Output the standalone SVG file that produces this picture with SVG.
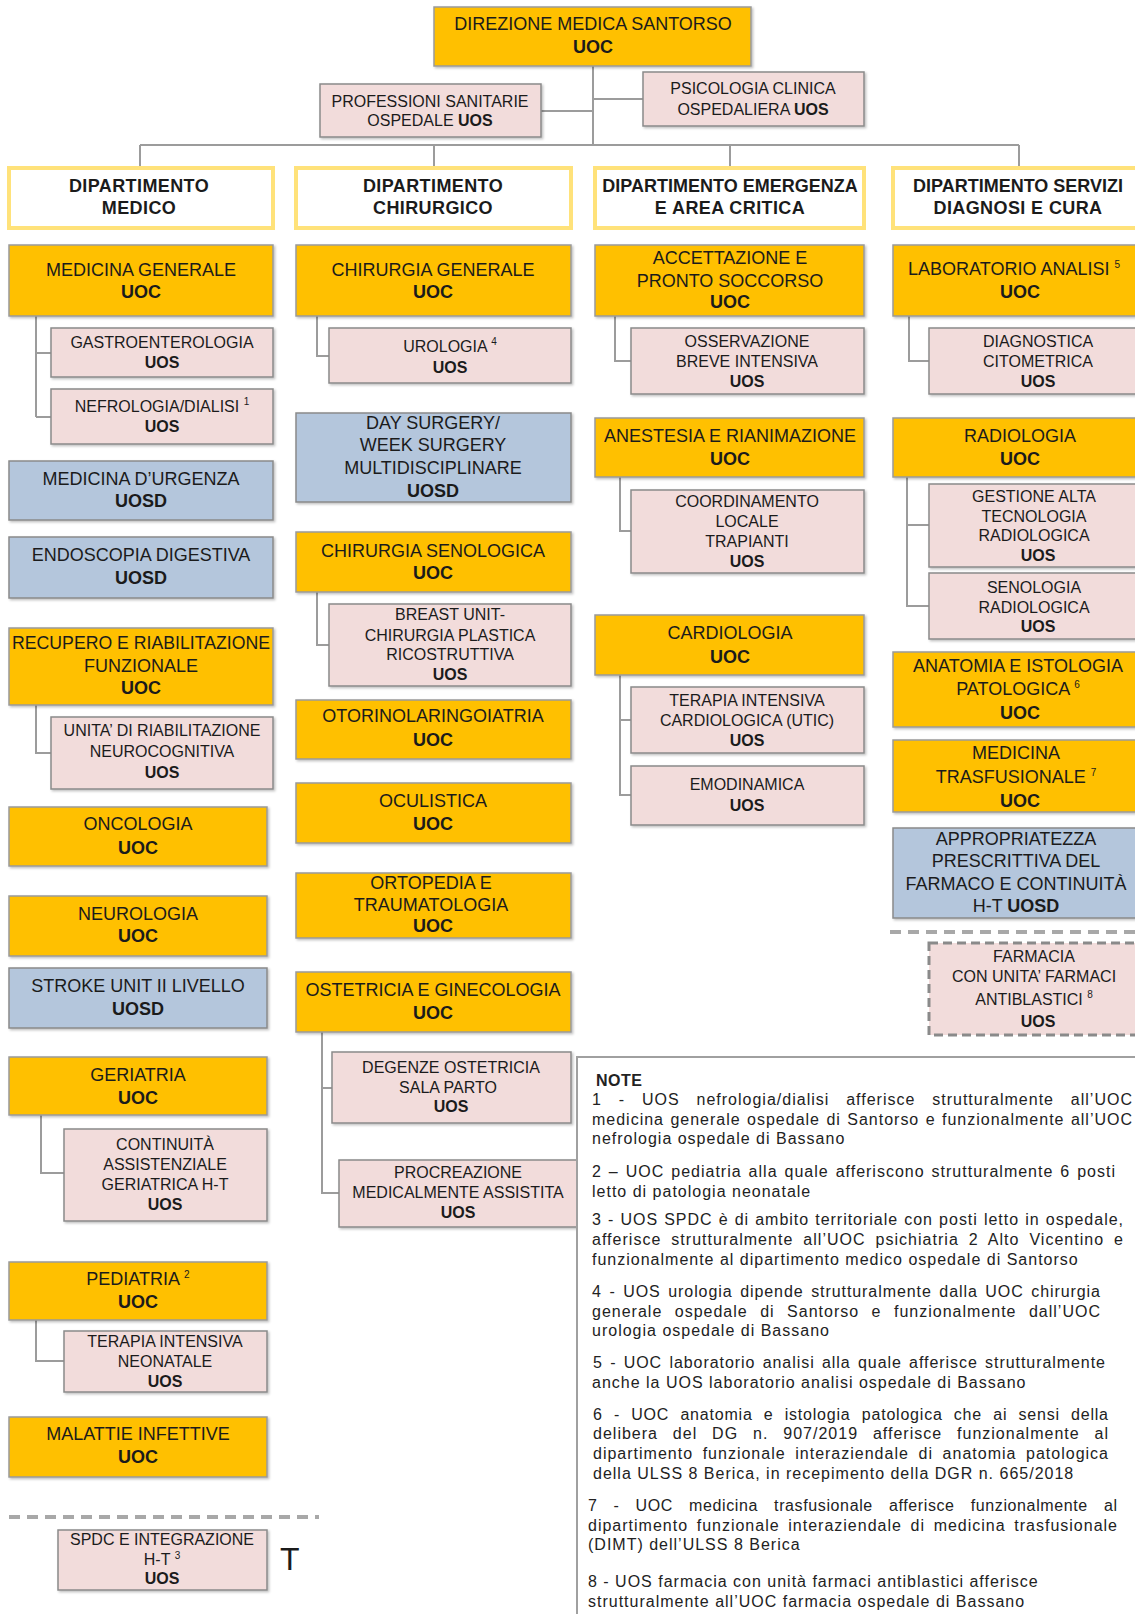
<svg xmlns="http://www.w3.org/2000/svg" width="1135" height="1614" viewBox="0 0 1135 1614">
<defs>
<filter id="sh" x="-5%" y="-5%" width="110%" height="115%">
<feDropShadow dx="1.5" dy="1.5" stdDeviation="0.8" flood-color="#000" flood-opacity="0.25"/>
</filter>
</defs>
<style>
text{font-family:"Liberation Sans",Arial,sans-serif;fill:#1b1b1b}
.n text{text-anchor:middle}
.uoc{fill:#FFC000;stroke:#9a9a9a;stroke-width:1.5;filter:url(#sh)}
.uos{fill:#F2DCDB;stroke:#8a8a8a;stroke-width:1.5;filter:url(#sh)}
.uosd{fill:#B4C6DC;stroke:#8a8a8a;stroke-width:1.5;filter:url(#sh)}
.dept{fill:#fff;stroke:#FFE27A;stroke-width:4}
.dept-t{letter-spacing:0.4px}
.dashbox{fill:#F2DCDB;stroke:#8a8a8a;stroke-width:3;stroke-dasharray:9 5}
.t18{font-size:18px}
.t16{font-size:16px}
.b{font-weight:bold}
.sup{font-size:10px}
.conn path{fill:none;stroke:#9c9c9c;stroke-width:2}
.sep{fill:none;stroke:#a8a8a8;stroke-width:4;stroke-dasharray:11 7}
.notes text{font-size:16px;letter-spacing:1px;fill:#222}
</style>
<rect width="1135" height="1614" fill="#fff"/>

<!-- connectors -->
<g id="connectors" class="conn">
<path d="M593 66V146M593 111H541M593 99H643"/>
<path d="M140 145H1019M140 145V167M434 145V167M730 145V167M1019 145V167"/>
<path d="M36 316V417M36 353H51M36 417H51"/>
<path d="M36 705V753H51"/>
<path d="M41 1115V1173H64"/>
<path d="M36 1320V1361H64"/>
<path d="M317 316V356H329"/>
<path d="M317 592V645H329"/>
<path d="M322 1032V1193H339M322 1088H332"/>
<path d="M615 316V361H631"/>
<path d="M620 477V531H631"/>
<path d="M620 675V795H631M620 720H631"/>
<path d="M909 316V361H929"/>
<path d="M907 477V606H929M907 525H929"/>
</g>

<!-- top level -->
<g id="direzione" class="n"><rect class="uoc" x="434" y="7" width="317" height="59"/>
<text class="t18" x="593" y="30">DIREZIONE MEDICA SANTORSO</text><text class="t18 b" x="593" y="53">UOC</text></g>
<g id="professioni" class="n"><rect class="uos" x="320" y="84" width="221" height="53"/>
<text class="t16" x="430" y="107">PROFESSIONI SANITARIE</text><text class="t16" x="430" y="126">OSPEDALE  <tspan class="b">UOS</tspan></text></g>
<g id="psicologia" class="n"><rect class="uos" x="643" y="72" width="221" height="54"/>
<text class="t16" x="753" y="94">PSICOLOGIA CLINICA</text><text class="t16" x="753" y="115">OSPEDALIERA <tspan class="b">UOS</tspan></text></g>

<!-- departments -->
<g id="dip-medico" class="n"><rect class="dept" x="9" y="168" width="264" height="60"/>
<text class="t18 b dept-t" x="139" y="192">DIPARTIMENTO</text><text class="t18 b dept-t" x="139" y="214">MEDICO</text></g>
<g id="dip-chirurgico" class="n"><rect class="dept" x="296" y="168" width="275" height="60"/>
<text class="t18 b dept-t" x="433" y="192">DIPARTIMENTO</text><text class="t18 b dept-t" x="433" y="214">CHIRURGICO</text></g>
<g id="dip-emergenza" class="n"><rect class="dept" x="595" y="168" width="269" height="60"/>
<text class="t18 b" x="730" y="192">DIPARTIMENTO EMERGENZA</text><text class="t18 b dept-t" x="730" y="214">E AREA CRITICA</text></g>
<g id="dip-servizi" class="n"><rect class="dept" x="893" y="168" width="254" height="60"/>
<text class="t18 b" x="1018" y="192">DIPARTIMENTO SERVIZI</text><text class="t18 b dept-t" x="1018" y="214">DIAGNOSI E CURA</text></g>

<!-- column 1 -->
<g id="medicina-generale" class="n"><rect class="uoc" x="9" y="245" width="264" height="71"/>
<text class="t18" x="141" y="276">MEDICINA GENERALE</text><text class="t18 b" x="141" y="298">UOC</text></g>
<g id="gastroenterologia" class="n"><rect class="uos" x="51" y="328" width="222" height="49"/>
<text class="t16" x="162" y="348">GASTROENTEROLOGIA</text><text class="t16 b" x="162" y="368">UOS</text></g>
<g id="nefrologia" class="n"><rect class="uos" x="51" y="389" width="222" height="55"/>
<text class="t16" x="162" y="412">NEFROLOGIA/DIALISI   <tspan class="sup" dy="-7">1</tspan></text><text class="t16 b" x="162" y="432">UOS</text></g>
<g id="medicina-urgenza" class="n"><rect class="uosd" x="9" y="461" width="264" height="59"/>
<text class="t18" x="141" y="485">MEDICINA D’URGENZA</text><text class="t18 b" x="141" y="507">UOSD</text></g>
<g id="endoscopia" class="n"><rect class="uosd" x="9" y="537" width="264" height="61"/>
<text class="t18" x="141" y="561">ENDOSCOPIA DIGESTIVA</text><text class="t18 b" x="141" y="584">UOSD</text></g>
<g id="recupero" class="n"><rect class="uoc" x="9" y="628" width="264" height="77"/>
<text class="t18" x="141" y="649" textLength="258" lengthAdjust="spacingAndGlyphs">RECUPERO E RIABILITAZIONE</text><text class="t18" x="141" y="672">FUNZIONALE</text><text class="t18 b" x="141" y="694">UOC</text></g>
<g id="neurocognitiva" class="n"><rect class="uos" x="51" y="717" width="222" height="72"/>
<text class="t16" x="162" y="736">UNITA’ DI RIABILITAZIONE</text><text class="t16" x="162" y="757">NEUROCOGNITIVA</text><text class="t16 b" x="162" y="778">UOS</text></g>
<g id="oncologia" class="n"><rect class="uoc" x="9" y="807" width="258" height="59"/>
<text class="t18" x="138" y="830">ONCOLOGIA</text><text class="t18 b" x="138" y="854">UOC</text></g>
<g id="neurologia" class="n"><rect class="uoc" x="9" y="896" width="258" height="60"/>
<text class="t18" x="138" y="920">NEUROLOGIA</text><text class="t18 b" x="138" y="942">UOC</text></g>
<g id="stroke-unit" class="n"><rect class="uosd" x="9" y="968" width="258" height="60"/>
<text class="t18" x="138" y="992">STROKE UNIT II LIVELLO</text><text class="t18 b" x="138" y="1015">UOSD</text></g>
<g id="geriatria" class="n"><rect class="uoc" x="9" y="1057" width="258" height="58"/>
<text class="t18" x="138" y="1081">GERIATRIA</text><text class="t18 b" x="138" y="1104">UOC</text></g>
<g id="continuita" class="n"><rect class="uos" x="64" y="1129" width="203" height="92"/>
<text class="t16" x="165" y="1150">CONTINUITÀ</text><text class="t16" x="165" y="1170">ASSISTENZIALE</text><text class="t16" x="165" y="1190">GERIATRICA H-T</text><text class="t16 b" x="165" y="1210">UOS</text></g>
<g id="pediatria" class="n"><rect class="uoc" x="9" y="1262" width="258" height="58"/>
<text class="t18" x="138" y="1285">PEDIATRIA <tspan class="sup" dy="-7">2</tspan></text><text class="t18 b" x="138" y="1308">UOC</text></g>
<g id="tin" class="n"><rect class="uos" x="64" y="1331" width="203" height="61"/>
<text class="t16" x="165" y="1347">TERAPIA INTENSIVA</text><text class="t16" x="165" y="1367">NEONATALE</text><text class="t16 b" x="165" y="1387">UOS</text></g>
<g id="malattie-infettive" class="n"><rect class="uoc" x="9" y="1417" width="258" height="60"/>
<text class="t18" x="138" y="1440">MALATTIE INFETTIVE</text><text class="t18 b" x="138" y="1463">UOC</text></g>
<path class="sep" d="M9 1517H319"/>
<g id="spdc" class="n"><rect class="uos" x="58" y="1530" width="209" height="60"/>
<text class="t16" x="162" y="1545">SPDC E INTEGRAZIONE</text><text class="t16" x="162" y="1565">H-T <tspan class="sup" dy="-6">3</tspan></text><text class="t16 b" x="162" y="1584">UOS</text></g>
<text x="280" y="1570" font-size="32">T</text>

<!-- column 2 -->
<g id="chirurgia-generale" class="n"><rect class="uoc" x="296" y="245" width="275" height="71"/>
<text class="t18" x="433" y="276">CHIRURGIA GENERALE</text><text class="t18 b" x="433" y="298">UOC</text></g>
<g id="urologia" class="n"><rect class="uos" x="329" y="328" width="242" height="55"/>
<text class="t16" x="450" y="352">UROLOGIA <tspan class="sup" dy="-7">4</tspan></text><text class="t16 b" x="450" y="373">UOS</text></g>
<g id="day-surgery" class="n"><rect class="uosd" x="296" y="413" width="275" height="89"/>
<text class="t18" x="433" y="429">DAY SURGERY/</text><text class="t18" x="433" y="451">WEEK SURGERY</text><text class="t18" x="433" y="474">MULTIDISCIPLINARE</text><text class="t18 b" x="433" y="497">UOSD</text></g>
<g id="chirurgia-senologica" class="n"><rect class="uoc" x="296" y="532" width="275" height="60"/>
<text class="t18" x="433" y="557">CHIRURGIA SENOLOGICA</text><text class="t18 b" x="433" y="579">UOC</text></g>
<g id="breast-unit" class="n"><rect class="uos" x="329" y="604" width="242" height="82"/>
<text class="t16" x="450" y="620">BREAST UNIT-</text><text class="t16" x="450" y="641">CHIRURGIA PLASTICA</text><text class="t16" x="450" y="660">RICOSTRUTTIVA</text><text class="t16 b" x="450" y="680">UOS</text></g>
<g id="otorino" class="n"><rect class="uoc" x="296" y="700" width="275" height="59"/>
<text class="t18" x="433" y="722">OTORINOLARINGOIATRIA</text><text class="t18 b" x="433" y="746">UOC</text></g>
<g id="oculistica" class="n"><rect class="uoc" x="296" y="783" width="275" height="60"/>
<text class="t18" x="433" y="807">OCULISTICA</text><text class="t18 b" x="433" y="830">UOC</text></g>
<g id="ortopedia" class="n"><rect class="uoc" x="296" y="873" width="275" height="65"/>
<text class="t18" x="431" y="889">ORTOPEDIA E</text><text class="t18" x="431" y="911">TRAUMATOLOGIA</text><text class="t18 b" x="433" y="932">UOC</text></g>
<g id="ostetricia" class="n"><rect class="uoc" x="296" y="972" width="275" height="60"/>
<text class="t18" x="433" y="996">OSTETRICIA E GINECOLOGIA</text><text class="t18 b" x="433" y="1019">UOC</text></g>
<g id="degenze" class="n"><rect class="uos" x="332" y="1052" width="239" height="71"/>
<text class="t16" x="451" y="1073">DEGENZE OSTETRICIA</text><text class="t16" x="448" y="1093">SALA PARTO</text><text class="t16 b" x="451" y="1112">UOS</text></g>
<g id="procreazione" class="n"><rect class="uos" x="339" y="1160" width="238" height="67"/>
<text class="t16" x="458" y="1178">PROCREAZIONE</text><text class="t16" x="458" y="1198">MEDICALMENTE ASSISTITA</text><text class="t16 b" x="458" y="1218">UOS</text></g>

<!-- column 3 -->
<g id="pronto-soccorso" class="n"><rect class="uoc" x="595" y="245" width="269" height="71"/>
<text class="t18" x="730" y="264">ACCETTAZIONE E</text><text class="t18" x="730" y="287">PRONTO SOCCORSO</text><text class="t18 b" x="730" y="308">UOC</text></g>
<g id="obi" class="n"><rect class="uos" x="631" y="328" width="233" height="66"/>
<text class="t16" x="747" y="347">OSSERVAZIONE</text><text class="t16" x="747" y="367">BREVE INTENSIVA</text><text class="t16 b" x="747" y="387">UOS</text></g>
<g id="anestesia" class="n"><rect class="uoc" x="595" y="418" width="269" height="59"/>
<text class="t18" x="730" y="442">ANESTESIA E RIANIMAZIONE</text><text class="t18 b" x="730" y="465">UOC</text></g>
<g id="trapianti" class="n"><rect class="uos" x="631" y="490" width="233" height="83"/>
<text class="t16" x="747" y="507">COORDINAMENTO</text><text class="t16" x="747" y="527">LOCALE</text><text class="t16" x="747" y="547">TRAPIANTI</text><text class="t16 b" x="747" y="567">UOS</text></g>
<g id="cardiologia" class="n"><rect class="uoc" x="595" y="615" width="269" height="60"/>
<text class="t18" x="730" y="639">CARDIOLOGIA</text><text class="t18 b" x="730" y="663">UOC</text></g>
<g id="utic" class="n"><rect class="uos" x="631" y="687" width="233" height="66"/>
<text class="t16" x="747" y="706">TERAPIA INTENSIVA</text><text class="t16" x="747" y="726">CARDIOLOGICA (UTIC)</text><text class="t16 b" x="747" y="746">UOS</text></g>
<g id="emodinamica" class="n"><rect class="uos" x="631" y="766" width="233" height="59"/>
<text class="t16" x="747" y="790">EMODINAMICA</text><text class="t16 b" x="747" y="811">UOS</text></g>

<!-- column 4 -->
<g id="laboratorio" class="n"><rect class="uoc" x="893" y="245" width="254" height="71"/>
<text class="t18" x="1014" y="275">LABORATORIO ANALISI <tspan class="sup" dy="-7">5</tspan></text><text class="t18 b" x="1020" y="298">UOC</text></g>
<g id="citometrica" class="n"><rect class="uos" x="929" y="328" width="218" height="66"/>
<text class="t16" x="1038" y="347">DIAGNOSTICA</text><text class="t16" x="1038" y="367">CITOMETRICA</text><text class="t16 b" x="1038" y="387">UOS</text></g>
<g id="radiologia" class="n"><rect class="uoc" x="893" y="418" width="254" height="59"/>
<text class="t18" x="1020" y="442">RADIOLOGIA</text><text class="t18 b" x="1020" y="465">UOC</text></g>
<g id="alta-tecnologia" class="n"><rect class="uos" x="929" y="484" width="218" height="83"/>
<text class="t16" x="1034" y="502">GESTIONE ALTA</text><text class="t16" x="1034" y="522">TECNOLOGIA</text><text class="t16" x="1034" y="541">RADIOLOGICA</text><text class="t16 b" x="1038" y="561">UOS</text></g>
<g id="senologia-radiologica" class="n"><rect class="uos" x="929" y="573" width="218" height="66"/>
<text class="t16" x="1034" y="593">SENOLOGIA</text><text class="t16" x="1034" y="613">RADIOLOGICA</text><text class="t16 b" x="1038" y="632">UOS</text></g>
<g id="anatomia-patologica" class="n"><rect class="uoc" x="893" y="652" width="254" height="75"/>
<text class="t18" x="1018" y="672">ANATOMIA E ISTOLOGIA</text><text class="t18" x="1018" y="695">PATOLOGICA <tspan class="sup" dy="-7">6</tspan></text><text class="t18 b" x="1020" y="719">UOC</text></g>
<g id="trasfusionale" class="n"><rect class="uoc" x="893" y="740" width="254" height="72"/>
<text class="t18" x="1016" y="759">MEDICINA</text><text class="t18" x="1016" y="783">TRASFUSIONALE <tspan class="sup" dy="-7">7</tspan></text><text class="t18 b" x="1020" y="807">UOC</text></g>
<g id="appropriatezza" class="n"><rect class="uosd" x="893" y="828" width="254" height="90"/>
<text class="t18" x="1016" y="845">APPROPRIATEZZA</text><text class="t18" x="1016" y="867">PRESCRITTIVA DEL</text><text class="t18" x="1016" y="890">FARMACO E CONTINUITÀ</text><text class="t18" x="1016" y="912">H-T <tspan class="b">UOSD</tspan></text></g>
<path class="sep" d="M890 932H1135"/>
<g id="farmacia" class="n"><rect class="dashbox" x="929" y="943" width="220" height="92"/>
<text class="t16" x="1034" y="962">FARMACIA</text><text class="t16" x="1034" y="982">CON UNITA’ FARMACI</text><text class="t16" x="1034" y="1005">ANTIBLASTICI <tspan class="sup" dy="-7">8</tspan></text><text class="t16 b" x="1038" y="1027">UOS</text></g>

<!-- notes: justified lines get extra word spacing, last lines stay natural -->
<g id="note" class="notes">
<rect x="577" y="1057" width="600" height="600" fill="#fff" stroke="#a0a0a0" stroke-width="2"/>
<text x="596" y="1086" class="b" style="letter-spacing:0.5px">NOTE</text>
<text x="592" y="1105" word-spacing="11.4" textLength="541" lengthAdjust="spacing">1 - UOS nefrologia/dialisi afferisce strutturalmente all’UOC</text>
<text x="592" y="1125" word-spacing="1" textLength="541" lengthAdjust="spacing">medicina generale ospedale di Santorso e funzionalmente all’UOC</text>
<text x="592" y="1144">nefrologia ospedale di Bassano</text>
<text x="592" y="1177" word-spacing="1.5" textLength="524" lengthAdjust="spacing">2 – UOC pediatria alla quale afferiscono strutturalmente 6 posti</text>
<text x="592" y="1197">letto di patologia neonatale</text>
<text x="592" y="1225" word-spacing="0.7" textLength="532" lengthAdjust="spacing">3 - UOS SPDC è di ambito territoriale con posti letto in ospedale,</text>
<text x="592" y="1245" word-spacing="4.5" textLength="532" lengthAdjust="spacing">afferisce strutturalmente all’UOC psichiatria 2 Alto Vicentino e</text>
<text x="592" y="1265">funzionalmente al dipartimento medico ospedale di Santorso</text>
<text x="592" y="1297" word-spacing="2.2" textLength="509" lengthAdjust="spacing">4 - UOS urologia dipende strutturalmente dalla UOC chirurgia</text>
<text x="592" y="1317" word-spacing="7" textLength="509" lengthAdjust="spacing">generale ospedale di Santorso e funzionalmente dall’UOC</text>
<text x="592" y="1336">urologia ospedale di Bassano</text>
<text x="593" y="1368" word-spacing="1.9" textLength="513" lengthAdjust="spacing">5 - UOC laboratorio analisi alla quale afferisce strutturalmente</text>
<text x="592" y="1388">anche la UOS laboratorio analisi ospedale di Bassano</text>
<text x="593" y="1420" word-spacing="6" textLength="516" lengthAdjust="spacing">6 - UOC anatomia e istologia patologica che ai sensi della</text>
<text x="593" y="1439" word-spacing="9.4" textLength="516" lengthAdjust="spacing">delibera del DG n. 907/2019 afferisce funzionalmente al</text>
<text x="593" y="1459" word-spacing="4.2" textLength="516" lengthAdjust="spacing">dipartimento funzionale interaziendale di anatomia patologica</text>
<text x="593" y="1479">della ULSS 8 Berica, in recepimento della DGR n. 665/2018</text>
<text x="588" y="1511" word-spacing="11" textLength="530" lengthAdjust="spacing">7 - UOC medicina trasfusionale afferisce funzionalmente al</text>
<text x="588" y="1531" word-spacing="3.2" textLength="530" lengthAdjust="spacing">dipartimento funzionale interaziendale di medicina trasfusionale</text>
<text x="588" y="1550">(DIMT) dell’ULSS 8 Berica</text>
<text x="588" y="1587">8 - UOS farmacia con unità farmaci antiblastici afferisce</text>
<text x="588" y="1607">strutturalmente all’UOC farmacia ospedale di Bassano</text>
</g>
</svg>
